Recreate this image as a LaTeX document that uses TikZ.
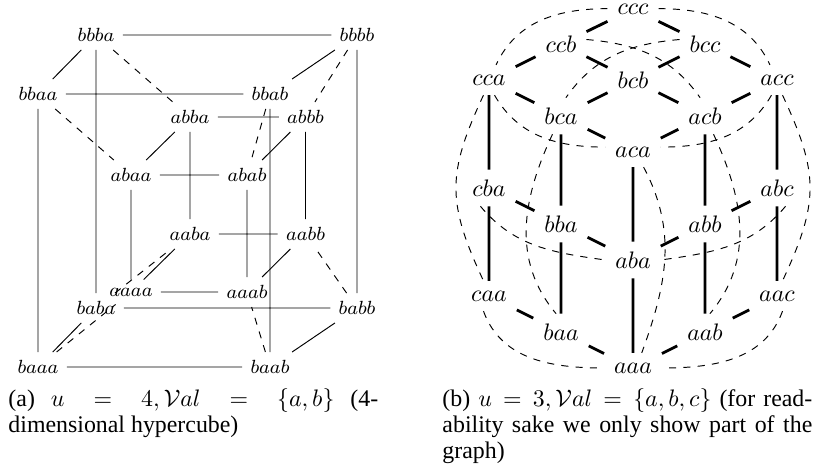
\documentclass[tikz,border=0pt]{standalone}
\usepackage[no-math]{fontspec}
\setmainfont{Liberation Serif}
\begin{document}
\begin{tikzpicture}[x=0.4191pt,y=0.4191pt,
  lv/.style={font=\footnotesize,inner sep=3.3pt},
  rv/.style={inner sep=4pt},
  thk/.style={line width=1.2pt},
  dsh/.style={dashed},
  captxt/.style={anchor=north west,inner sep=0pt,text width=155pt,align=justify,font=\fontsize{10pt}{11pt}\selectfont}]
\useasboundingbox (0,0) rectangle (815,471);
% ---------- (a) hypercube ----------
\node[lv] (bbba) at (96,436) {$bbba$};
\node[lv] (bbbb) at (357,436) {$bbbb$};
\node[lv] (bbaa) at (38,377) {$bbaa$};
\node[lv] (bbab) at (270,377) {$bbab$};
\node[lv] (abba) at (190,354) {$abba$};
\node[lv] (abbb) at (305.5,354) {$abbb$};
\node[lv] (abaa) at (131,296) {$abaa$};
\node[lv] (abab) at (247,296) {$abab$};
\node[lv] (aaba) at (190,237) {$aaba$};
\node[lv] (aabb) at (305.5,237) {$aabb$};
\node[lv] (aaaa) at (131,179) {$aaaa$};
\node[lv] (aaab) at (247,179) {$aaab$};
\node[lv] (baba) at (96,163) {$baba$};
\node[lv] (babb) at (357,163) {$babb$};
\node[lv] (baaa) at (38,104) {$baaa$};
\node[lv] (baab) at (270,104) {$baab$};
\draw (bbba)--(bbbb) (bbba)--(bbaa) (bbba)--(baba) (bbbb)--(bbab) (bbbb)--(babb)
      (bbaa)--(bbab) (bbaa)--(baaa) (bbab)--(baab) (baba)--(babb) (baba)--(baaa)
      (babb)--(baab) (baaa)--(baab);
\draw (abba)--(abbb) (abba)--(abaa) (abba)--(aaba) (abbb)--(abab) (abbb)--(aabb)
      (abaa)--(abab) (abaa)--(aaaa) (abab)--(aaab) (aaba)--(aabb) (aaba)--(aaaa)
      (aabb)--(aaab) (aaaa)--(aaab);
\draw[dsh] (bbba)--(abba) (bbbb)--(abbb) (bbaa)--(abaa) (bbab)--(abab)
      (baba)--(aaba) (babb)--(aabb) (baaa)--(aaaa) (baab)--(aaab);
% ---------- (b) ----------
\node[rv] (ccc) at (633,462) {$ccc$};
\node[rv] (ccb) at (561,427) {$ccb$};
\node[rv] (bcc) at (705,427) {$bcc$};
\node[rv] (cca) at (489,391) {$cca$};
\node[rv] (bcb) at (633,391) {$bcb$};
\node[rv] (acc) at (777,391) {$acc$};
\node[rv] (bca) at (561,355) {$bca$};
\node[rv] (acb) at (705,355) {$acb$};
\node[rv] (aca) at (633,319) {$aca$};
\node[rv] (cba) at (489,283) {$cba$};
\node[rv] (abc) at (777,283) {$abc$};
\node[rv] (bba) at (561,247) {$bba$};
\node[rv] (abb) at (705,247) {$abb$};
\node[rv] (aba) at (633,211) {$aba$};
\node[rv] (caa) at (489,175) {$caa$};
\node[rv] (aac) at (777,175) {$aac$};
\node[rv] (baa) at (561,139) {$baa$};
\node[rv] (aab) at (705,139) {$aab$};
\node[rv] (aaa) at (633,103) {$aaa$};
\draw[thk] (ccc)--(ccb) (ccc)--(bcc) (ccb)--(cca) (ccb)--(bcb) (bcc)--(bcb) (bcc)--(acc)
      (cca)--(bca) (bcb)--(bca) (bcb)--(acb) (acc)--(acb) (bca)--(aca) (acb)--(aca)
      (cca)--(cba) (bca)--(bba) (aca)--(aba) (acb)--(abb) (acc)--(abc)
      (cba)--(caa) (bba)--(baa) (aba)--(aaa) (abb)--(aab) (abc)--(aac)
      (cba)--(bba) (bba)--(aba) (abb)--(aba) (abc)--(abb)
      (caa)--(baa) (baa)--(aaa) (aab)--(aaa) (aac)--(aab);
\draw[dsh] (ccc.mid west) to[out=180,in=65] (cca);
\draw[dsh] (ccc.mid east) to[out=0,in=115] (acc);
\draw[dsh] (ccb.10) to[out=-5,in=125] (acb.105);
\draw[dsh] (bcc.170) to[out=185,in=55] (bca.75);
\draw[dsh] (cca.-70) to[out=-60,in=180] (aca.170);
\draw[dsh] (acc.-110) to[out=-120,in=0] (aca.10);
\draw[dsh] (cca.-110) to[out=-115,in=115,looseness=1.2] (caa.110);
\draw[dsh] (acc.-70) to[out=-65,in=65,looseness=1.2] (aac.70);
\draw[dsh] (bca.-115) to[out=-115,in=130] (baa.105);
\draw[dsh] (acb.-65) to[out=-65,in=50] (aab.75);
\draw[dsh] (aca.-55) to[out=-62,in=70] (aaa.60);
\draw[dsh] (cba.-115) to[out=-50,in=172] (aba.west);
\draw[dsh] (abc.-65) to[out=-130,in=8] (aba.east);
\draw[dsh] (caa.-110) to[out=-70,in=180] (aaa.west);
\draw[dsh] (aac.-70) to[out=-110,in=0] (aaa.east);
% ---------- captions ----------
\node[captxt] (capa) at (8,83) {(a) $u = 4, \mathcal{V}al = \{a,b\}$ (4-\linebreak dimensional hypercube)};
\node[captxt] (capb) at (442,83) {(b) $u = 3, \mathcal{V}al = \{a,b,c\}$ (for read-\linebreak ability sake we only show part of the\linebreak graph)};
\end{tikzpicture}
\end{document}
